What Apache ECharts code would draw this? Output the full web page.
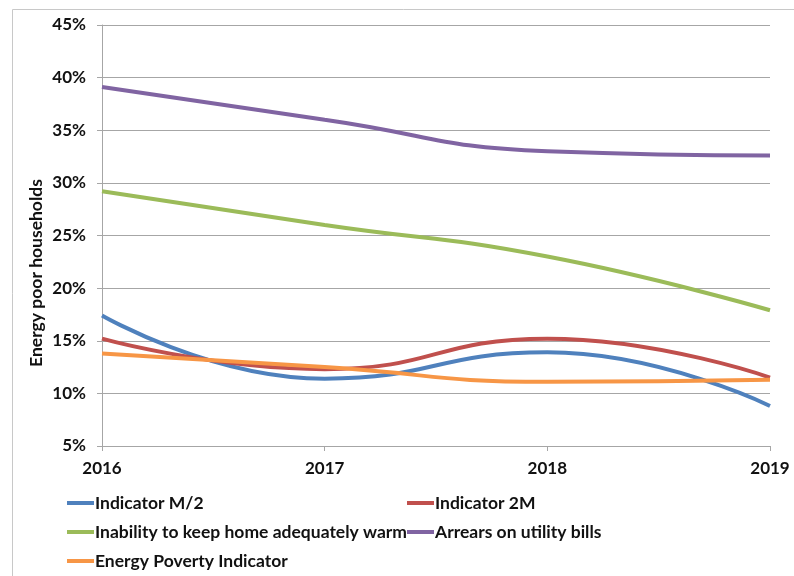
<!DOCTYPE html>
<html>
<head>
<meta charset="utf-8">
<script src="https://cdn.jsdelivr.net/npm/echarts@6/dist/echarts.min.js"></script>
<style>
html,body{margin:0;padding:0;background:#fff;}
#chart{width:794px;height:576px;}
</style>
</head>
<body>
<div id="chart"></div>
<script>
var years = ['2016', '2017', '2018', '2019'];
var indicatorM2 = [17.4, 11.4, 13.9, 8.8];
var indicator2M = [15.2, 12.3, 15.2, 11.5];
var inabilityWarm = [29.2, 26.0, 23.0, 17.9];
var arrearsBills = [39.1, 36.0, 33.0, 32.6];
var energyPovertyIndicator = [13.8, 12.5, 11.1, 11.3];

var seriesNames = ['Indicator M/2', 'Indicator 2M', 'Inability to keep home adequately warm', 'Arrears on utility bills', 'Energy Poverty Indicator'];
var seriesData = [indicatorM2, indicator2M, inabilityWarm, arrearsBills, energyPovertyIndicator];
var colors = ['#4f81bd', '#c0504d', '#9bbb59', '#8064a2', '#f79646'];

var FONT = 'Lato';
var legendPos = [[67, 494], [407, 494], [67, 523], [407, 523], [67, 552]];

var chart = echarts.init(document.getElementById('chart'));
var option = {
  animation: false,
  backgroundColor: '#fff',
  color: colors,
  grid: { left: 102, right: 24, top: 25, bottom: 130, containLabel: false },
  xAxis: {
    type: 'category',
    data: years,
    boundaryGap: false,
    axisLine: { lineStyle: { color: '#a6a6a6', width: 1 } },
    axisTick: { show: true, length: 5, lineStyle: { color: '#a6a6a6' } },
    axisLabel: { margin: 14, color: '#111', fontFamily: FONT, fontWeight: 'bold', fontSize: 17 },
    splitLine: { show: false }
  },
  yAxis: {
    type: 'value',
    min: 5, max: 45, interval: 5,
    axisLine: { show: true, lineStyle: { color: '#a6a6a6', width: 1 } },
    axisTick: { show: true, length: 5, lineStyle: { color: '#a6a6a6' } },
    axisLabel: { margin: 16, color: '#111', fontFamily: FONT, fontWeight: 'bold', fontSize: 17, formatter: '{value}%' },
    splitLine: { show: true, lineStyle: { color: '#a6a6a6', width: 1 } }
  },
  legend: seriesNames.map(function (n, i) {
    return {
      data: [n],
      left: legendPos[i][0],
      top: legendPos[i][1],
      icon: 'rect',
      itemWidth: 27,
      itemHeight: 4,
      itemGap: 0,
      padding: 0,
      textStyle: { color: '#111', fontFamily: FONT, fontWeight: 'bold', fontSize: 17.5, padding: [0, 0, 0, -4] }
    };
  }),
  graphic: [
    {
      type: 'rect',
      shape: { x: 12.5, y: 9.5, width: 800, height: 600 },
      style: { fill: 'none', stroke: '#c8c8c8', lineWidth: 1 },
      silent: true
    },
    {
      type: 'text',
      x: 36, y: 273,
      rotation: Math.PI / 2,
      style: {
        text: 'Energy poor households',
        fill: '#111',
        font: 'bold 17.5px Lato',
        align: 'center',
        verticalAlign: 'middle'
      },
      silent: true
    }
  ],
  series: seriesNames.map(function (n, i) {
    return {
      name: n,
      type: 'line',
      data: seriesData[i],
      smooth: 0.5,
      symbol: 'none',
      lineStyle: { width: 4, color: colors[i] },
      itemStyle: { color: colors[i] },
      z: 2 + i
    };
  })
};
chart.setOption(option);
</script>
</body>
</html>
